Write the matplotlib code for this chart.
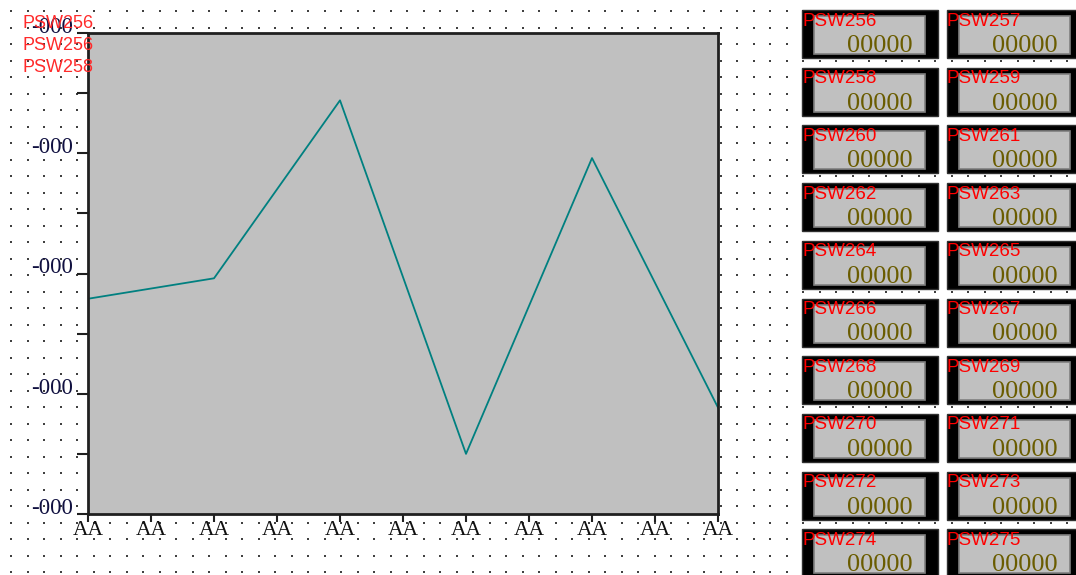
import matplotlib.pyplot as plt
from matplotlib.patches import Rectangle
from matplotlib.ticker import FixedLocator, FuncFormatter
import numpy as np

# chart data
x_labels = ['AA'] * 11
point_idx = [0, 2, 4, 6, 8, 10]
point_val = [358, 392, 688, 100, 592, 177]
y_major = [0, 200, 400, 600, 800]
y_minor = [100, 300, 500, 700]
y_label = '-000'

# legend-ish labels at top left
corner_labels = ['PSW256', 'PSW256', 'PSW258']

# meter widgets on the right
left_names = ['PSW256', 'PSW258', 'PSW260', 'PSW262', 'PSW264',
              'PSW266', 'PSW268', 'PSW270', 'PSW272', 'PSW274']
right_names = ['PSW257', 'PSW259', 'PSW261', 'PSW263', 'PSW265',
               'PSW267', 'PSW269', 'PSW271', 'PSW273', 'PSW275']
meter_value = '00000'

W, H = 1076, 575
fig = plt.figure(figsize=(W / 100, H / 100), dpi=100)
fig.patch.set_facecolor('white')

# background: dotted grid
bg = fig.add_axes([0, 0, 1, 1], zorder=0)
bg.set_xlim(0, W)
bg.set_ylim(H, 0)
bg.axis('off')
gx, gy = np.meshgrid(np.arange(11, W, 16.5), np.arange(11, H, 16.5))
bg.scatter(gx.ravel(), gy.ravel(), s=1.2, color='#404040', marker='s', linewidths=0)

# the trend chart
ax = fig.add_axes([88 / W, 1 - 514 / H, (718 - 88) / W, (514 - 33) / H], zorder=1)
ax.set_facecolor('#c0c0c0')
ax.plot(point_idx, point_val, color='#008080', lw=1.3)
ax.set_xlim(0, len(x_labels) - 1)
ax.set_ylim(0, 800)
ax.set_xticks(range(len(x_labels)))
ax.set_xticklabels(x_labels, family='Liberation Serif', fontsize=15.5, color='#101010')
ax.yaxis.set_major_locator(FixedLocator(y_major))
ax.yaxis.set_minor_locator(FixedLocator(y_minor))
ax.yaxis.set_major_formatter(FuncFormatter(lambda v, p: y_label))
for lab in ax.get_yticklabels():
    lab.set_family('Liberation Serif')
    lab.set_fontsize(16.5)
    lab.set_color('#101040')
    lab.set_va('baseline')
ax.tick_params(axis='x', length=6, width=1.5, pad=-1, color='#202020')
ax.tick_params(axis='y', which='both', length=8, width=1.5, pad=3, color='#202020')
for s in ax.spines.values():
    s.set_linewidth(2)
    s.set_color('#202020')

# overlay: widgets and corner labels
ov = fig.add_axes([0, 0, 1, 1], zorder=2)
ov.set_xlim(0, W)
ov.set_ylim(H, 0)
ov.axis('off')

for i, name in enumerate(corner_labels):
    ov.text(22, 24 + 22 * i, name, color='#ff2a2a', fontsize=13,
            family='Liberation Sans', va='center', ha='left')

for col, names in enumerate([left_names, right_names]):
    x0 = 802 + 145 * col
    for r, name in enumerate(names):
        y0 = 10 + 57.7 * r
        ov.add_patch(Rectangle((x0, y0), 136, 48, facecolor='black',
                               edgecolor='#303030', lw=1))
        ov.add_patch(Rectangle((x0 + 12, y0 + 6), 111, 38, facecolor='#c0c0c0',
                               edgecolor='#808080', lw=1.2))
        ov.text(x0 + 111, y0 + 42, meter_value, color='#6a5c00', fontsize=19,
                family='Liberation Serif', ha='right', va='baseline')
        ov.text(x0, y0 + 11, name, color='#ff0000', fontsize=13.5,
                family='Liberation Sans', ha='left', va='center')

fig.savefig('out.png', dpi=100)
